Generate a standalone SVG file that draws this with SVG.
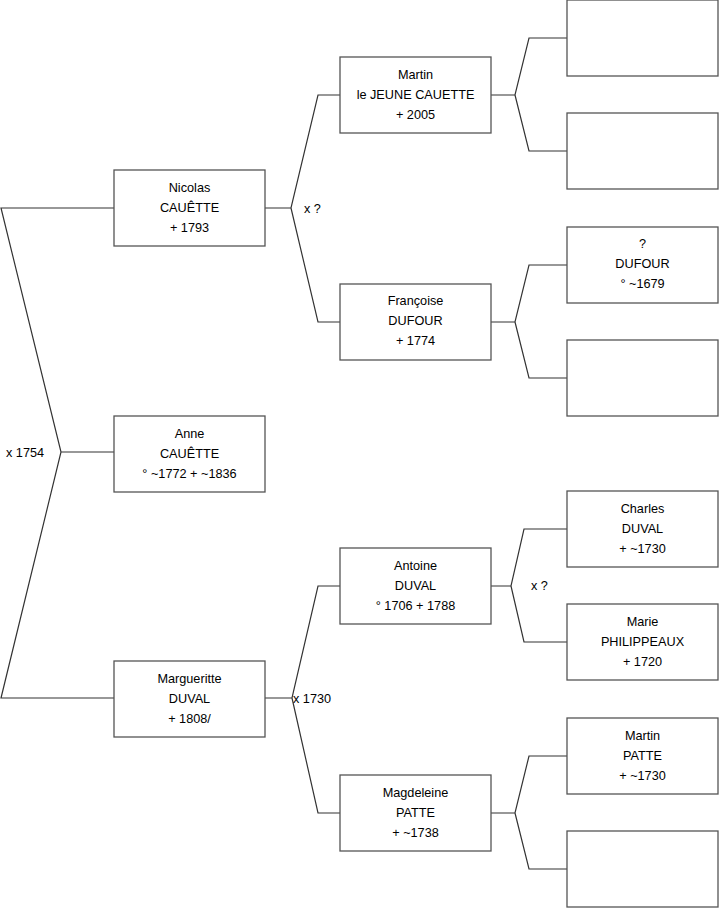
<svg xmlns="http://www.w3.org/2000/svg" width="719" height="908" viewBox="0 0 719 908">
<style>
.box{fill:#fff;stroke:#555;stroke-width:1.3}
.ln{fill:none;stroke:#333;stroke-width:1.2}
text{font-family:"Liberation Sans",Arial,sans-serif;font-size:12.7px;fill:#000}
.c{text-anchor:middle}
</style>
<rect width="719" height="908" fill="#fff"/>
<g id="connectors">
<path class="ln" d="M114,208H1L61,452L1,698H114M61,452H114"/>
<path class="ln" d="M265,208H291L318,95H340M291,208L318,322H340"/>
<path class="ln" d="M265,698H292L318,586H340M292,698L318,813H340"/>
<path class="ln" d="M491,95H515L529,38H567M515,95L529,151H567"/>
<path class="ln" d="M491,322H515L529,265H567M515,322L529,378H567"/>
<path class="ln" d="M491,586H511L524,529H567M511,586L524,642H567"/>
<path class="ln" d="M491,813H515L529,756H567M515,813L529,869H567"/>
<text x="6" y="457">x 1754</text>
<text x="304" y="212.5">x ?</text>
<text x="293" y="702.5">x 1730</text>
<text x="531" y="589.5">x ?</text>
</g>
<g id="nicolas"><rect class="box" x="114" y="170" width="151" height="76"/><text class="c" x="189.5" y="191.5">Nicolas</text><text class="c" x="189.5" y="211.5">CAUÊTTE</text><text class="c" x="189.5" y="231.5">+ 1793</text></g>
<g id="anne"><rect class="box" x="114" y="416" width="151" height="76"/><text class="c" x="189.5" y="438">Anne</text><text class="c" x="189.5" y="458">CAUÊTTE</text><text class="c" x="189.5" y="478">° ~1772 + ~1836</text></g>
<g id="margueritte"><rect class="box" x="114" y="661" width="151" height="76"/><text class="c" x="189.5" y="683">Margueritte</text><text class="c" x="189.5" y="703">DUVAL</text><text class="c" x="189.5" y="723">+ 1808/</text></g>
<g id="martin"><rect class="box" x="340" y="57" width="151" height="76"/><text class="c" x="415.5" y="78.5">Martin</text><text class="c" x="415.5" y="98.5">le JEUNE CAUETTE</text><text class="c" x="415.5" y="118.5">+ 2005</text></g>
<g id="francoise"><rect class="box" x="340" y="284" width="151" height="76"/><text class="c" x="415.5" y="304.5">Françoise</text><text class="c" x="415.5" y="324.5">DUFOUR</text><text class="c" x="415.5" y="344.5">+ 1774</text></g>
<g id="antoine"><rect class="box" x="340" y="548" width="151" height="76"/><text class="c" x="415.5" y="569.5">Antoine</text><text class="c" x="415.5" y="589.5">DUVAL</text><text class="c" x="415.5" y="609.5">° 1706 + 1788</text></g>
<g id="magdeleine"><rect class="box" x="340" y="775" width="151" height="76"/><text class="c" x="415.5" y="796.5">Magdeleine</text><text class="c" x="415.5" y="816.5">PATTE</text><text class="c" x="415.5" y="836.5">+ ~1738</text></g>
<g id="r1"><rect class="box" x="567" y="0" width="151" height="76"/></g>
<g id="r2"><rect class="box" x="567" y="113" width="151" height="76"/></g>
<g id="r3"><rect class="box" x="567" y="227" width="151" height="76"/><text class="c" x="642.5" y="248">?</text><text class="c" x="642.5" y="268">DUFOUR</text><text class="c" x="642.5" y="288">° ~1679</text></g>
<g id="r4"><rect class="box" x="567" y="340" width="151" height="76"/></g>
<g id="charles"><rect class="box" x="567" y="491" width="151" height="76"/><text class="c" x="642.5" y="512.5">Charles</text><text class="c" x="642.5" y="532.5">DUVAL</text><text class="c" x="642.5" y="552.5">+ ~1730</text></g>
<g id="marie"><rect class="box" x="567" y="604" width="151" height="76"/><text class="c" x="642.5" y="625.5">Marie</text><text class="c" x="642.5" y="645.5">PHILIPPEAUX</text><text class="c" x="642.5" y="665.5">+ 1720</text></g>
<g id="martinpatte"><rect class="box" x="567" y="718" width="151" height="76"/><text class="c" x="642.5" y="739.5">Martin</text><text class="c" x="642.5" y="759.5">PATTE</text><text class="c" x="642.5" y="779.5">+ ~1730</text></g>
<g id="r8"><rect class="box" x="567" y="831" width="151" height="76"/></g>
</svg>
